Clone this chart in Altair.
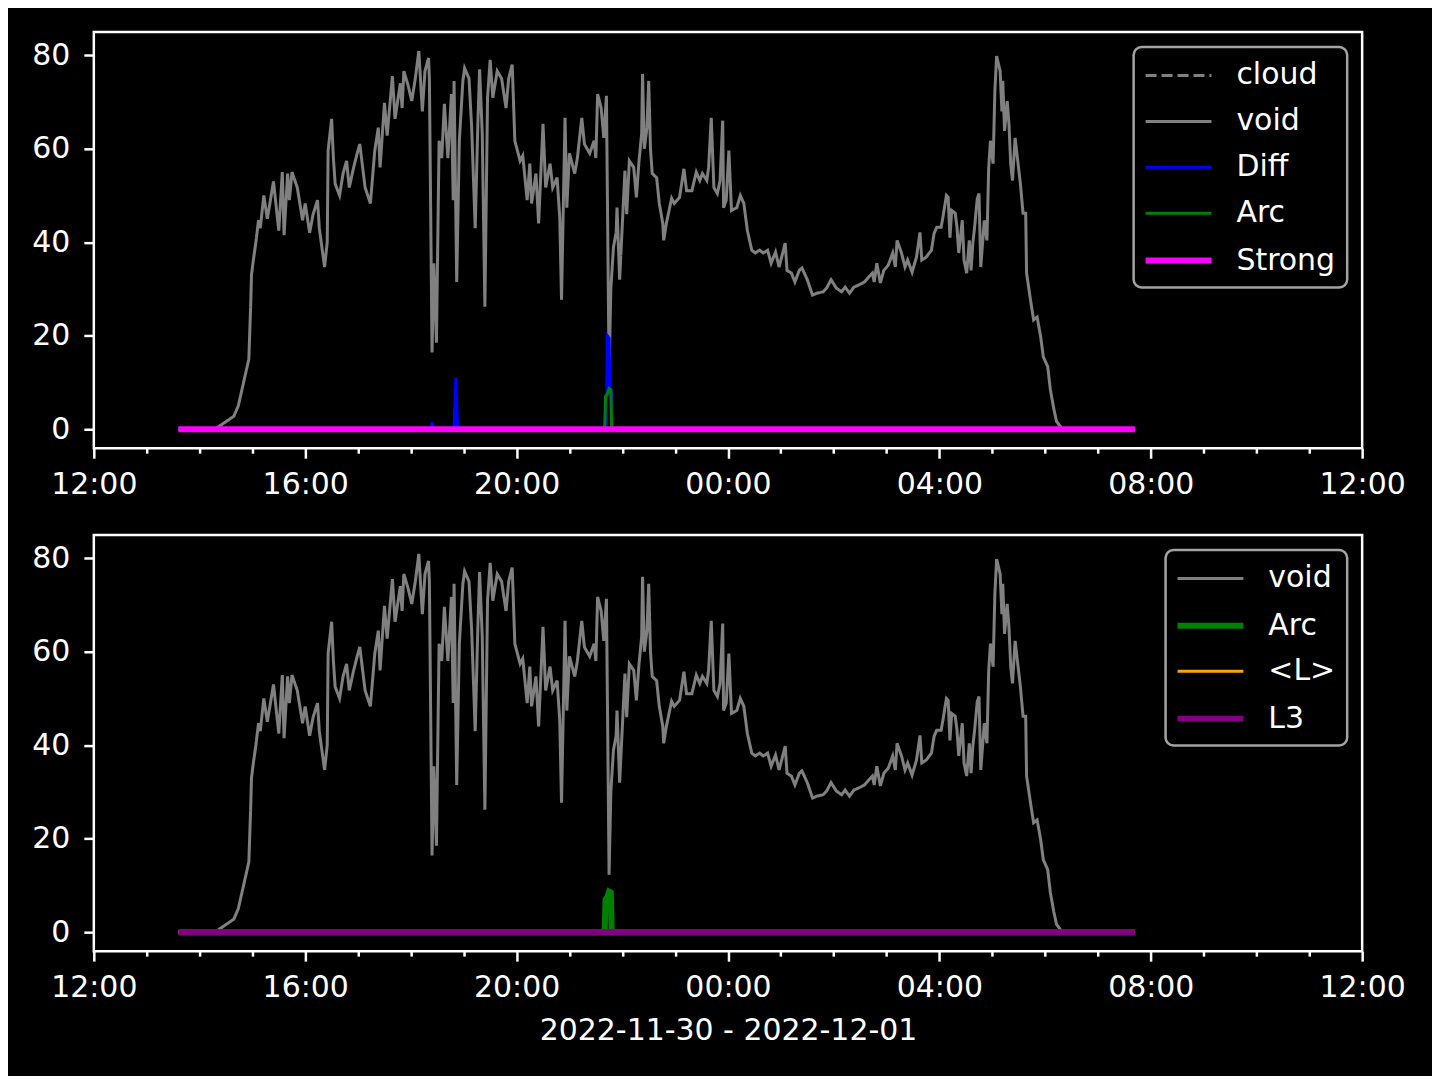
import altair as alt
import pandas as pd

# ---------------- data (minutes after 2022-11-30 12:00 UTC, values) ----------------
void_min = [
    96, 137, 142, 159, 164, 170, 176, 178, 179, 181,
    184, 187, 189, 193, 197, 204, 210, 214, 216, 220,
    222, 225, 231, 237, 240, 245, 249, 254, 256, 262,
    265, 266, 270, 272, 274, 279, 283, 287, 290, 295,
    299, 302, 308, 314, 319, 323, 325, 330, 333, 339,
    342, 348, 350, 352, 357, 361, 365, 369, 373, 376,
    380, 381, 384, 386, 389, 392, 395, 398, 402, 406,
    408, 409, 412, 415, 419, 421, 426, 429, 433, 436,
    438, 441, 444, 447, 450, 453, 458, 463, 468, 471,
    475, 478, 484, 487, 492, 495, 497, 502, 505, 510,
    513, 518, 521, 526, 529, 531, 535, 537, 540, 546,
    549, 554, 557, 563, 568, 570, 572, 576, 579, 582,
    585, 587, 590, 593, 594, 597, 599, 603, 605, 608,
    613, 616, 619, 622, 623, 625, 628, 630, 632, 634,
    639, 642, 646, 647, 650, 656, 659, 665, 670, 673,
    679, 684, 688, 691, 696, 698, 701, 704, 708, 711,
    714, 715, 718, 721, 724, 730, 734, 738, 742, 747,
    751, 756, 760, 765, 769, 774, 778, 785, 787, 792,
    796, 801, 804, 810, 816, 821, 828, 832, 837, 843,
    849, 853, 858, 863, 869, 875, 880, 884, 886, 889,
    893, 897, 902, 907, 910, 912, 917, 921, 924, 929,
    934, 938, 940, 945, 951, 954, 957, 962, 964, 968,
    970, 972, 974, 978, 980, 982, 986, 988, 991, 994,
    996, 998, 1000, 1003, 1005, 1007, 1011, 1014, 1016, 1018,
    1021, 1023, 1025, 1029, 1031, 1032, 1034, 1037, 1039, 1041,
    1043, 1046, 1048, 1052, 1055, 1058, 1059, 1064, 1067, 1071,
    1075, 1078, 1083, 1086, 1090, 1093, 1098, 1102, 1182,
]
void_val = [
    0, 0, 0.6, 2.8, 5, 10, 15, 26, 33, 36,
    40, 44.7, 43, 50, 45, 53, 42.5, 55, 41.5, 54.7,
    49, 55, 51.7, 44.7, 48.3, 42, 46, 49, 43, 34.7,
    40, 59.6, 66.4, 58, 52.5, 50, 54.7, 57.4, 51.7, 56,
    59, 61, 51.7, 48.3, 59.6, 64.5, 56, 69.8, 62.8, 75.5,
    66.4, 74, 68.7, 76.6, 73.4, 70.2, 75, 80.9, 68, 76.6,
    79.4, 75, 16.4, 35.5, 18.5, 61.7, 58, 69.6, 58, 71.7,
    49, 74.5, 31.5, 61.7, 74.5, 77.2, 75, 64.5, 43, 65.3,
    77, 63.2, 26.2, 70.9, 79, 70.9, 76.6, 75, 68.7, 75,
    78, 61.7, 57.4, 58.5, 49, 56.8, 48.3, 54.7, 44, 65.3,
    51.7, 56.8, 51.7, 53.8, 45.3, 27.7, 66.6, 47.4, 59, 54.7,
    58, 66.6, 61, 59, 61.7, 58, 71.7, 68.7, 62.3, 71.3,
    12.3, 30, 39, 42, 47.4, 32, 39.8, 55.3, 46, 57.4,
    56, 49.6, 57.4, 63.2, 76, 60, 64.5, 74.5, 60, 54.7,
    53.8, 48.3, 44, 40.4, 44, 49.4, 48.3, 49.6, 55.7, 51,
    51, 55, 53.2, 54.7, 53.2, 56, 66.6, 51.7, 50.4, 53.2,
    66, 47.4, 49, 59.6, 46.8, 47.4, 50, 48.3, 42.5, 38.3,
    37.7, 38.3, 37.7, 38.3, 35.5, 37.9, 34.7, 39.8, 34, 33.4,
    31.5, 34, 34.5, 32, 28.7, 29.1, 29.4, 30.2, 32, 30.2,
    29.4, 30.4, 29.1, 30.4, 30.9, 31.5, 32.6, 33.4, 31.5, 35.5,
    31.3, 34, 35.1, 37.7, 34.7, 40.4, 37.7, 34.7, 36.2, 33.6,
    36.8, 42.1, 36.2, 36.8, 38.3, 41.9, 43.2, 43.2, 45.3, 50,
    49.6, 41, 46.8, 46.2, 43.2, 37.7, 44.7, 36.2, 33.4, 40.4,
    34, 39.8, 43.2, 49.3, 50.4, 34.7, 44.7, 40.4, 56, 61.7,
    56.8, 72.3, 79.8, 76.6, 68, 74.5, 63.8, 70.2, 65.3, 56.8,
    53.2, 62.3, 59, 52.5, 46.2, 46.2, 33.4, 27, 23.4, 24,
    19.8, 15.5, 13.4, 8.5, 4.3, 1.7, 0.4, 0, 0,
]
assert len(void_min) == len(void_val)

diff_min = [96, 383, 384, 385, 409, 411, 413, 582, 583, 585, 586, 588, 589, 1182]
diff_val = [0, 0, 1.5, 0, 0, 11, 0, 0, 20, 19.5, 7, 8.5, 0, 0]

arc_min = [96, 580, 581, 583, 585, 587, 588, 1182]
arc_val = [0, 0, 7, 7.5, 8.7, 8.5, 0, 0]

flat_min = [96, 1182]
flat_val = [0, 0]

top_names = ["cloud", "void", "Diff", "Arc", "Strong"]
top_colors = ["#808080", "#808080", "#0000ff", "#008000", "#ff00ff"]
top_widths = [3, 3, 3, 3, 6]
top_dashes = [[11, 5], [1, 0], [1, 0], [1, 0], [1, 0]]
top_data = [(flat_min, flat_val), (void_min, void_val), (diff_min, diff_val),
            (arc_min, arc_val), (flat_min, flat_val)]

bot_names = ["void", "Arc", "<L>", "L3"]
bot_colors = ["#808080", "#008000", "#ffa500", "#800080"]
bot_widths = [3, 6, 3, 6]
bot_dashes = [[1, 0], [1, 0], [1, 0], [1, 0]]
bot_data = [(void_min, void_val), (arc_min, arc_val), (flat_min, flat_val), (flat_min, flat_val)]

x_title = "2022-11-30 - 2022-12-01"

# ---------------- helpers ----------------
START = pd.Timestamp("2022-11-30 12:00:00", tz="UTC")
END = pd.Timestamp("2022-12-01 12:00:00", tz="UTC")
FONT = "DejaVu Sans"


def to_ms(ts):
    return int(ts.value // 10**6)


def frame(name, mins, vals):
    times = [(START + pd.Timedelta(minutes=m)).strftime("%Y-%m-%dT%H:%M:%SZ") for m in mins]
    return pd.DataFrame({"t": times, "v": vals, "series": name})


hour_ticks = [to_ms(START + pd.Timedelta(hours=h)) for h in range(25)]
ymax = max(void_val)
ydom = [-0.05 * ymax, ymax * 1.05]


def panel(names, colors, widths, dashes, data, height, title):
    xaxis = alt.Axis(
        values=hour_ticks,
        labelExpr="utchours(datum.value) % 4 === 0 ? utcFormat(datum.value, '%H:%M') : ''",
        tickSize={"condition": {"test": "utchours(datum.value) % 4 === 0", "value": 10}, "value": 5},
        labelPadding=11,
        labelFlush=False,
        labelOverlap=False,
        minExtent=62,
        maxExtent=62,
        grid=False,
        domain=False,
        title=title if title else None,
        titlePadding=3,
    )
    yaxis = alt.Axis(values=[0, 20, 40, 60, 80], tickSize=10, labelPadding=14,
                     minExtent=84, maxExtent=84, grid=False, domain=False, title=None)
    xscale = alt.Scale(type="utc", domain=[to_ms(START), to_ms(END)])
    yscale = alt.Scale(domain=ydom, nice=False, zero=False)
    layers = []
    for name, (mins, vals) in zip(names, data):
        df = frame(name, mins, vals)
        layers.append(
            alt.Chart(df).mark_line().encode(
                x=alt.X("t:T", scale=xscale, axis=xaxis),
                y=alt.Y("v:Q", scale=yscale, axis=yaxis),
                color=alt.Color("series:N", scale=alt.Scale(domain=names, range=colors),
                                legend=alt.Legend(title=None)),
                strokeWidth=alt.StrokeWidth("series:N",
                                            scale=alt.Scale(type="ordinal", domain=names, range=widths),
                                            legend=alt.Legend(title=None)),
                strokeDash=alt.StrokeDash("series:N", scale=alt.Scale(domain=names, range=dashes),
                                          legend=alt.Legend(title=None)),
            )
        )
    return alt.layer(*layers).properties(width=1271, height=height)


top = panel(top_names, top_colors, top_widths, top_dashes, top_data, 417, None)
bottom = panel(bot_names, bot_colors, bot_widths, bot_dashes, bot_data, 417, x_title)

chart = (
    alt.vconcat(top, bottom, spacing=21)
    .resolve_scale(color="independent", strokeWidth="independent", strokeDash="independent")
    .properties(background="black", padding={"left": 0, "top": 21, "right": 25, "bottom": 27})
    .configure_view(stroke="white", strokeWidth=2.5)
    .configure_axis(
        labelFont=FONT, labelFontSize=30, labelColor="white",
        tickColor="white", tickWidth=2.5,
        titleFont=FONT, titleFontSize=30, titleColor="white", titleFontWeight="normal",
    )
    .configure_legend(
        orient="top-right", offset=15, padding=12,
        fillColor="black", strokeColor="#a3a3a3", strokeWidth=2.5, cornerRadius=8,
        labelFont=FONT, labelFontSize=30, labelColor="white", labelLimit=0,
        symbolType="M-1.2,0H3.2", symbolSize=900, labelOffset=55, rowPadding=14,
    )
)

chart.save("out.html", embed_options={"renderer": "svg", "actions": False})
